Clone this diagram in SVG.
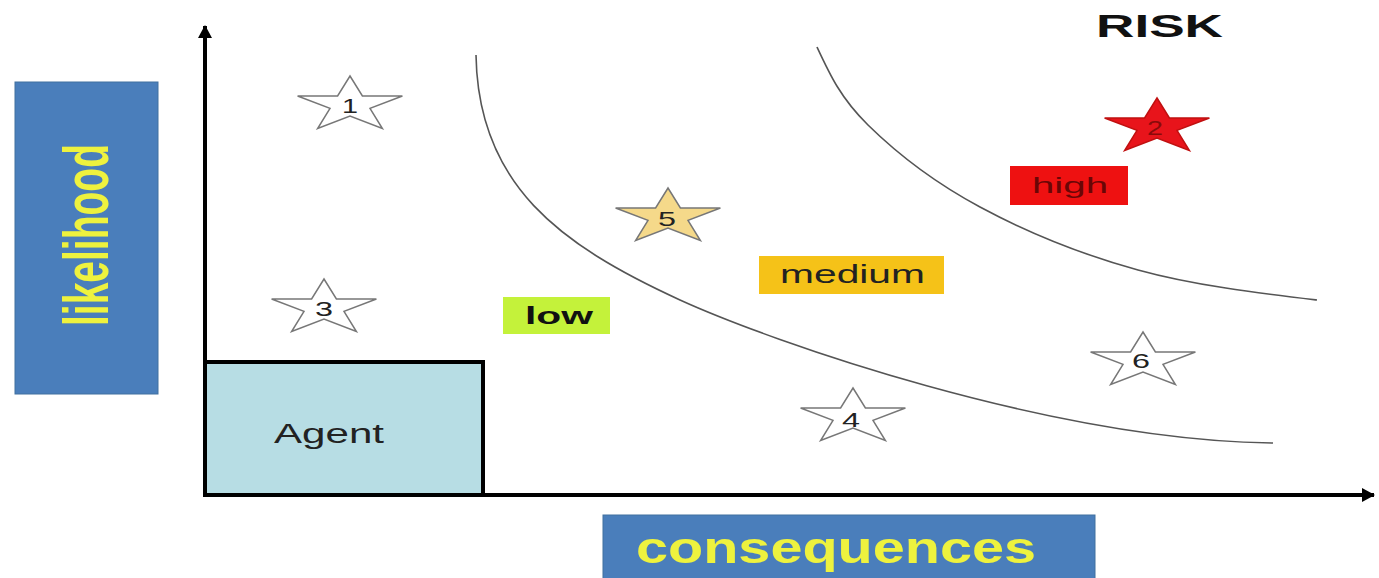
<svg xmlns="http://www.w3.org/2000/svg" width="1379" height="578" viewBox="0 0 1379 578">
<style>
.lbl{font-family:"Liberation Sans",Arial,sans-serif}
.num{font-family:"Liberation Sans",Arial,sans-serif;font-size:21px;fill:#222;text-anchor:middle}
.star{stroke:#777;stroke-width:1.5;stroke-linejoin:miter}
.curve{fill:none;stroke:#555;stroke-width:1.6}
.axis{fill:none;stroke:#000;stroke-width:4}
.bluebox{fill:#4a7ebb;stroke:#41709f;stroke-width:1}
.ytext{font-family:"Liberation Sans",Arial,sans-serif;font-weight:bold;fill:#eef23e}
</style>
<defs>
<polygon id="star" points="0,-29 12.4,-9 52.4,-9 20,3.4 32.4,23.5 0,11.1 -32.4,23.5 -20,3.4 -52.4,-9 -12.4,-9"/>
<marker id="arr" markerUnits="userSpaceOnUse" markerWidth="16" markerHeight="16" refX="12" refY="8" orient="auto">
<path d="M0,1 L13,8 L0,15 Z" fill="#000"/>
</marker>
</defs>
<rect width="1379" height="578" fill="#fff"/>

<g id="connectors">
<line class="axis" x1="205" y1="497" x2="205" y2="26" marker-end="url(#arr)"/>
<line class="axis" x1="203" y1="495" x2="1374" y2="495" marker-end="url(#arr)"/>
<path id="curve-low-medium" class="curve" d="M476,55 C478,185 560,245 680,300 C770,341 1050,440 1273,443"/>
<path id="curve-medium-high" class="curve" d="M817,47 C830,75 840.8,98.3 868,125 C895.2,151.7 935,182.8 980,207 C1025,231.2 1081.8,254.5 1138,270 C1194.2,285.5 1258,293 1317,300"/>
</g>

<g id="likelihood">
<rect class="bluebox" x="15" y="82" width="143" height="312"/>
<text class="ytext" font-size="39" text-anchor="middle" transform="translate(108,235) scale(1.62,1) rotate(-90)">likelihood</text>
</g>

<g id="consequences">
<rect class="bluebox" x="603" y="515" width="492" height="70"/>
<text class="ytext" x="636" y="563" font-size="44" textLength="400" lengthAdjust="spacingAndGlyphs">consequences</text>
</g>

<g id="agent">
<rect x="205" y="362" width="278" height="133" fill="#b7dde4" stroke="#000" stroke-width="4"/>
<text class="lbl" x="274" y="443" font-size="27" fill="#222" textLength="110" lengthAdjust="spacingAndGlyphs">Agent</text>
</g>

<g id="risk-title">
<text class="lbl" x="1096" y="37" font-size="32" font-weight="bold" fill="#111" textLength="127" lengthAdjust="spacingAndGlyphs">RISK</text>
</g>

<g id="label-low">
<rect x="503" y="297" width="107" height="37" fill="#c4f23a"/>
<text class="lbl" x="525" y="324" font-size="23" font-weight="bold" fill="#111" textLength="68" lengthAdjust="spacingAndGlyphs">low</text>
</g>

<g id="label-medium">
<rect x="759" y="256" width="185" height="38" fill="#f5c218"/>
<text class="lbl" x="780" y="283" font-size="26" fill="#222" textLength="145" lengthAdjust="spacingAndGlyphs">medium</text>
</g>

<g id="label-high">
<rect x="1010" y="166" width="118" height="39" fill="#ee1111"/>
<text class="lbl" x="1032" y="193" font-size="22" fill="#6a0606" textLength="76" lengthAdjust="spacingAndGlyphs">high</text>
</g>

<g id="star-1">
<use href="#star" x="350" y="105" class="star" fill="#fff"/>
<text class="num" x="350" y="113" textLength="16" lengthAdjust="spacingAndGlyphs">1</text>
</g>
<g id="star-2">
<use href="#star" x="1157" y="127" class="star" fill="#e8141b" style="stroke:#c01010"/>
<text class="num" x="1155" y="135" style="fill:#8a0a0a" textLength="16" lengthAdjust="spacingAndGlyphs">2</text>
</g>
<g id="star-3">
<use href="#star" x="324" y="308" class="star" fill="#fff"/>
<text class="num" x="324" y="316" textLength="18" lengthAdjust="spacingAndGlyphs">3</text>
</g>
<g id="star-4">
<use href="#star" x="853" y="417" class="star" fill="#fff"/>
<text class="num" x="851" y="427" textLength="18" lengthAdjust="spacingAndGlyphs">4</text>
</g>
<g id="star-5">
<use href="#star" x="668" y="217" class="star" fill="#f5d98a"/>
<text class="num" x="667" y="226" textLength="18" lengthAdjust="spacingAndGlyphs">5</text>
</g>
<g id="star-6">
<use href="#star" x="1143" y="361" class="star" fill="#fff"/>
<text class="num" x="1141" y="368" textLength="18" lengthAdjust="spacingAndGlyphs">6</text>
</g>
</svg>
